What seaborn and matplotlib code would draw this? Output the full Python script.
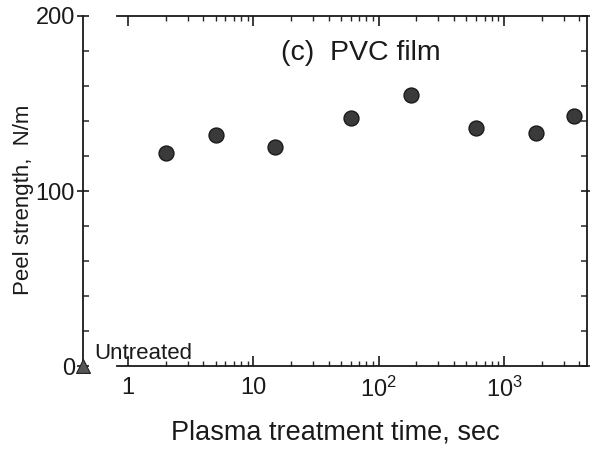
import numpy as np
import pandas as pd
import seaborn as sns
import matplotlib
matplotlib.use("Agg")
import matplotlib.pyplot as plt
from matplotlib.ticker import FixedLocator, FixedFormatter, MultipleLocator

# datos
tiempo_s = [2, 5, 15, 60, 180, 600, 1800, 3600]
peel_nm = [122, 132, 125, 142, 155, 136, 133, 143]
untreated_peel = [0]
x_ticks = [1, 10, 100, 1000]
x_ticklabels = ["1", "10", r"$10^2$", r"$10^3$"]
y_ticks = [0, 100, 200]

sns.set_style("ticks")
plt.rcParams["font.family"] = ["Liberation Sans", "DejaVu Sans"]
plt.rcParams["mathtext.fontset"] = "custom"
plt.rcParams["mathtext.rm"] = "Liberation Sans"
plt.rcParams["mathtext.it"] = "Liberation Sans"

df = pd.DataFrame({"t": tiempo_s, "peel": peel_nm})

fig = plt.figure(figsize=(5.9, 4.57), dpi=100)
ax = fig.add_axes([0.141, 0.199, 0.854, 0.766])

x_left, x_axis_start, x_right = 0.44, 0.82, 4600

sns.scatterplot(data=df, x="t", y="peel", ax=ax, s=115, color="#3a3a3a",
                edgecolor="#1a1a1a", linewidth=1.0, zorder=3, legend=False)

ax.set_xscale("log")
ax.set_xlim(x_left, x_right)
ax.set_ylim(0, 200)

# punto sin tratar, en el eje izquierdo
ax.scatter([x_left], untreated_peel, marker="^", s=100, color="#555555",
           edgecolor="#222222", linewidth=0.8, zorder=4, clip_on=False)
ax.annotate("Untreated", xy=(x_left, untreated_peel[0]), xytext=(8, 5),
            textcoords="offset points", fontsize=16, color="#1a1a1a")

for side in ["top", "bottom"]:
    ax.spines[side].set_bounds(x_axis_start, x_right)
for sp in ax.spines.values():
    sp.set_linewidth(1.3)
    sp.set_color("#1a1a1a")

ax.xaxis.set_major_locator(FixedLocator(x_ticks))
ax.xaxis.set_major_formatter(FixedFormatter(x_ticklabels))
minors = [m * 10 ** d for d in range(0, 4) for m in range(2, 10) if m * 10 ** d < x_right]
ax.xaxis.set_minor_locator(FixedLocator(minors))

ax.yaxis.set_major_locator(FixedLocator(y_ticks))
ax.yaxis.set_minor_locator(MultipleLocator(20))

ax.tick_params(axis="x", which="major", direction="in", length=7, width=1.2,
               top=True, bottom=True, labelsize=17, pad=8, colors="#1a1a1a")
ax.tick_params(axis="x", which="minor", direction="in", length=3.5, width=1,
               top=True, bottom=True)
ax.tick_params(axis="y", which="major", direction="inout", length=8, width=1.2,
               left=True, right=True, labelsize=17, pad=2, colors="#1a1a1a")
ax.tick_params(axis="y", which="minor", direction="in", length=4.5, width=1.1,
               left=True, right=True)

ax.set_xlabel("Plasma treatment time, sec", fontsize=19.5, labelpad=12, color="#1a1a1a")
ax.set_ylabel("Peel strength,  N/m", fontsize=16, color="#1a1a1a")
ax.yaxis.set_label_coords(-0.098, 0.474)

ax.text(0.55, 0.894, "(c)  PVC film", transform=ax.transAxes, fontsize=20.5,
        ha="center", va="center", color="#1a1a1a")

fig.savefig("out.png", dpi=100)
